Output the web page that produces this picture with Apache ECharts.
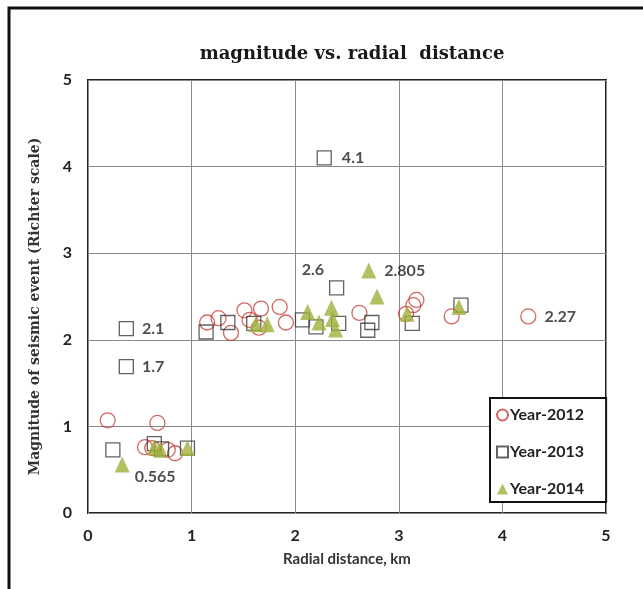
<!DOCTYPE html>
<html>
<head>
<meta charset="utf-8">
<script src="https://cdn.jsdelivr.net/npm/echarts@6/dist/echarts.min.js"></script>
<style>
html, body { margin: 0; padding: 0; background: #fff; }
#container { width: 643px; height: 589px; }
</style>
</head>
<body>
<div id="container"></div>
<script>
let chart = echarts.init(document.getElementById('container'));

// [radial distance km, magnitude]
var year2012 = [
    [0.19, 1.07], [0.67, 1.04], [0.55, 0.76], [0.62, 0.75], [0.77, 0.73], [0.84, 0.69],
    [1.15, 2.2], [1.26, 2.25], [1.38, 2.08], [1.51, 2.34], [1.56, 2.23], [1.65, 2.14],
    [1.67, 2.36], [1.85, 2.38], [1.91, 2.2], [2.62, 2.31], [3.07, 2.3], [3.14, 2.4],
    [3.17, 2.46], [3.51, 2.27], [4.25, 2.27]
];
var year2013 = [
    [0.24, 0.73], [0.64, 0.8], [0.71, 0.74], [0.96, 0.75], [0.37, 1.69], [0.37, 2.13],
    [1.14, 2.09], [1.35, 2.2], [1.6, 2.19], [2.07, 2.23], [2.2, 2.15], [2.42, 2.19],
    [2.28, 4.1], [2.4, 2.6], [2.74, 2.2], [2.7, 2.11], [3.13, 2.19], [3.6, 2.4]
];
var year2014 = [
    [0.33, 0.56], [0.64, 0.76], [0.7, 0.73], [0.96, 0.75], [1.62, 2.18], [1.73, 2.18],
    [2.12, 2.32], [2.23, 2.2], [2.35, 2.37], [2.36, 2.24], [2.39, 2.12], [2.71, 2.8],
    [2.79, 2.5], [3.08, 2.3], [3.58, 2.38]
];
// index in series -> label text
var labels2012 = {20: '2.27'};
var labels2013 = {4: '1.7', 5: '2.1', 12: '4.1', 13: '2.6'};
var labels2014 = {0: '0.565', 11: '2.805'};
var seriesNames = ['Year-2012', 'Year-2013', 'Year-2014'];

var labelFont = {
    fontFamily: 'Lato',
    fontWeight: 'bold',
    fontSize: 16,
    color: '#222'
};

function withLabels(points, labels, special) {
    return points.map((p, i) => {
        if (labels[i] === undefined) {
            return p;
        }
        let lab = Object.assign({show: true, position: 'right', distance: 8, formatter: labels[i]}, labelFont);
        if (special[labels[i]]) {
            Object.assign(lab, special[labels[i]]);
        }
        return {value: p, label: lab};
    });
}

var option = {
    backgroundColor: '#fff',
    animation: false,
    title: {
        text: 'magnitude vs. radial  distance',
        left: 347,
        textAlign: 'center',
        top: 40,
        textStyle: {
            fontFamily: 'DejaVu Serif',
            fontWeight: 'bold',
            fontSize: 18,
            color: '#1a1a1a'
        }
    },
    graphic: [{
        type: 'rect',
        shape: {x: 9, y: 8, width: 700, height: 700},
        style: {fill: 'none', stroke: '#111', lineWidth: 3}
    }],
    legend: {
        data: seriesNames,
        orient: 'vertical',
        left: 490,
        top: 398,
        padding: [9, 22, 5, 6],
        itemGap: 21,
        itemWidth: 11,
        itemHeight: 11,
        backgroundColor: '#fff',
        borderColor: '#111',
        borderWidth: 2,
        textStyle: {
            fontFamily: 'Lato',
            fontWeight: 'bold',
            fontSize: 16,
            color: '#222',
            padding: [0, 0, 0, -3]
        }
    },
    grid: {
        left: 88,
        right: 37,
        top: 80,
        bottom: 76,
        show: true,
        borderColor: '#222',
        borderWidth: 2,
        backgroundColor: 'transparent'
    },
    xAxis: {
        type: 'value',
        min: 0,
        max: 5,
        interval: 1,
        name: 'Radial distance, km',
        nameLocation: 'middle',
        nameGap: 39,
        nameTextStyle: {
            fontFamily: 'Lato',
            fontWeight: 'bold',
            fontSize: 15,
            color: '#333'
        },
        axisLine: {show: false},
        axisTick: {show: false},
        axisLabel: {
            margin: 15,
            fontFamily: 'Lato',
            fontWeight: 'bold',
            fontSize: 16,
            color: '#222'
        },
        splitLine: {lineStyle: {color: '#8a8a8a', width: 1}}
    },
    yAxis: {
        type: 'value',
        min: 0,
        max: 5,
        interval: 1,
        name: 'Magnitude of seismic event (Richter scale)',
        nameLocation: 'middle',
        nameGap: 46,
        nameTextStyle: {
            fontFamily: 'DejaVu Serif',
            fontWeight: 'bold',
            fontSize: 14,
            color: '#333',
            padding: [0, 20, 0, 0]
        },
        axisLine: {show: false},
        axisTick: {show: false},
        axisLabel: {
            margin: 16,
            fontFamily: 'Lato',
            fontWeight: 'bold',
            fontSize: 16,
            color: '#222'
        },
        splitLine: {lineStyle: {color: '#8a8a8a', width: 1}}
    },
    series: [
        {
            name: seriesNames[0],
            type: 'scatter',
            symbol: 'circle',
            symbolSize: 15,
            itemStyle: {color: 'rgba(255,255,255,0)', borderColor: '#c8413c', borderWidth: 1.3},
            data: withLabels(year2012, labels2012, {})
        },
        {
            name: seriesNames[1],
            type: 'scatter',
            symbol: 'rect',
            symbolSize: 14,
            itemStyle: {color: 'rgba(255,255,255,0)', borderColor: '#3a3a3a', borderWidth: 1.3},
            data: withLabels(year2013, labels2013, {
                '2.6': {position: 'left', distance: 5, offset: [0, -18]},
                '4.1': {distance: 10}
            })
        },
        {
            name: seriesNames[2],
            type: 'scatter',
            symbol: 'triangle',
            symbolSize: [15, 16],
            itemStyle: {color: '#9fb03a'},
            data: withLabels(year2014, labels2014, {
                '0.565': {distance: 5, offset: [0, 12]}
            })
        }
    ]
};

chart.setOption(option);
</script>
</body>
</html>
